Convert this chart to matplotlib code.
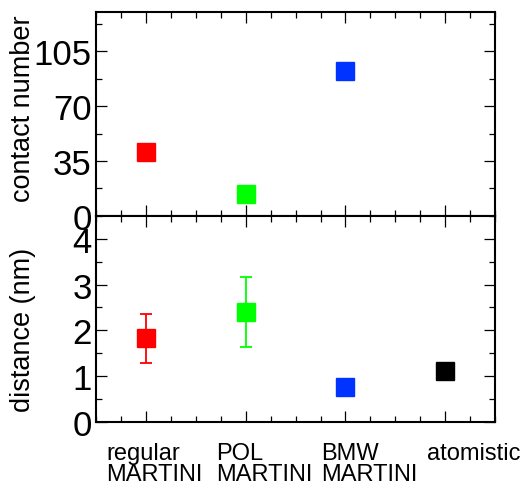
import numpy as np
import matplotlib
matplotlib.use("Agg")
import matplotlib.pyplot as plt
from matplotlib.ticker import MultipleLocator

plt.rcParams['font.family'] = ['Liberation Sans', 'DejaVu Sans']

# data
models = ['regular\nMARTINI', 'POL\nMARTINI', 'BMW\nMARTINI', 'atomistic']
xpos = [1, 2, 3, 4]
colors = ['#ff0000', '#00ff00', '#0033ff', '#000000']

contact = [41, 14, 92.5]            # no value for atomistic
distance = [1.83, 2.40, 0.77, 1.12]
dist_err_lo = [0.54, 0.76, 0.0, 0.0]
dist_err_hi = [0.52, 0.76, 0.0, 0.0]

label_x = [0.60, 1.70, 2.76, 3.82]   # left edge of category labels

fig = plt.figure(figsize=(5.25, 4.85), dpi=100)
ax1 = fig.add_axes([0.183, 0.553, 0.760, 0.420])
ax2 = fig.add_axes([0.183, 0.128, 0.760, 0.425])

ms = 13
for i in range(len(contact)):
    ax1.plot(xpos[i], contact[i], 's', color=colors[i], ms=ms, mec=colors[i])

for i in range(len(distance)):
    yerr = [[dist_err_lo[i]], [dist_err_hi[i]]]
    if dist_err_lo[i] > 0:
        ax2.errorbar(xpos[i], distance[i], yerr=yerr, fmt='none', ecolor=colors[i],
                     elinewidth=1.3, capsize=4.5, capthick=1.3)
    ax2.plot(xpos[i], distance[i], 's', color=colors[i], ms=ms, mec=colors[i])

for ax in (ax1, ax2):
    ax.set_xlim(0.5, 4.5)
    ax.xaxis.set_major_locator(MultipleLocator(1))
    ax.xaxis.set_minor_locator(MultipleLocator(0.25))
    ax.tick_params(which='both', direction='in', top=True, right=True, width=0.9)
    ax.tick_params(which='major', length=8, labelsize=25, pad=3)
    ax.tick_params(which='minor', length=4.5)
    for s in ax.spines.values():
        s.set_linewidth(1.5)
    ax.set_xticklabels([])

ax1.set_ylim(0, 130)
ax1.yaxis.set_major_locator(MultipleLocator(35))
ax1.yaxis.set_minor_locator(MultipleLocator(17.5))
ax1.set_yticks([0, 35, 70, 105])
ax1.set_ylabel('contact number', fontsize=19.5)
ax1.yaxis.set_label_coords(-0.15, 0.53)

ax2.set_ylim(0, 4.5)
ax2.yaxis.set_major_locator(MultipleLocator(1))
ax2.yaxis.set_minor_locator(MultipleLocator(0.5))
ax2.set_ylabel('distance (nm)', fontsize=19.5)
ax2.yaxis.set_label_coords(-0.15, 0.45)

for lx, name in zip(label_x, models):
    ax2.text(lx, -0.095, name, transform=ax2.get_xaxis_transform(),
             ha='left', va='top', fontsize=17, linespacing=0.95)

fig.savefig('out.png', dpi=100)
